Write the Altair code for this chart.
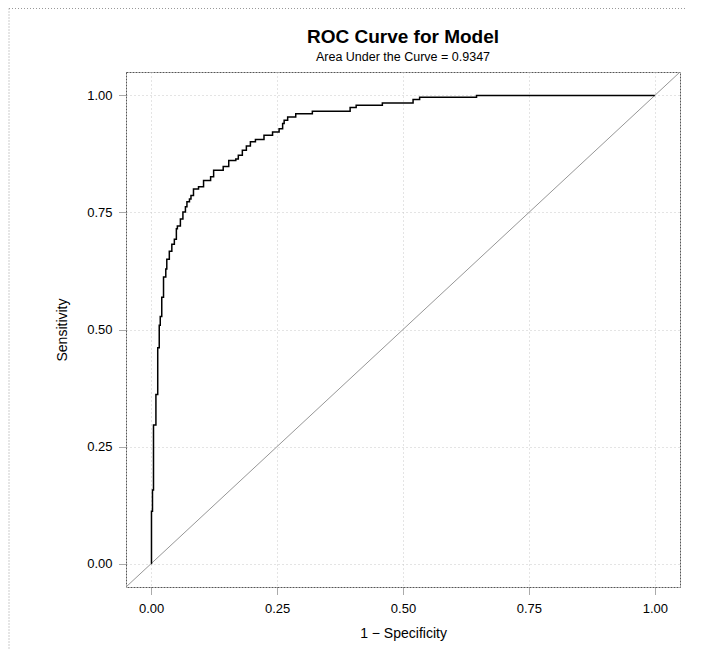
import altair as alt
import pandas as pd

# ROC curve corner points (1 - specificity, sensitivity)
fpr = [0.0, 0.0006, 0.0026, 0.0046, 0.0094, 0.013, 0.016, 0.018, 0.021, 0.0245,
       0.029, 0.031, 0.036, 0.041, 0.046, 0.050, 0.052, 0.058, 0.063, 0.068,
       0.071, 0.076, 0.079, 0.084, 0.094, 0.104, 0.118, 0.124, 0.143, 0.154,
       0.168, 0.173, 0.181, 0.189, 0.197, 0.207, 0.224, 0.241, 0.254, 0.261,
       0.264, 0.271, 0.287, 0.320, 0.395, 0.407, 0.459, 0.520, 0.533, 0.646, 1.0]
tpr = [0.0, 0.112, 0.157, 0.296, 0.361, 0.461, 0.509, 0.528, 0.569, 0.612,
       0.629, 0.650, 0.667, 0.682, 0.693, 0.715, 0.721, 0.736, 0.751, 0.762,
       0.773, 0.779, 0.786, 0.800, 0.805, 0.818, 0.826, 0.840, 0.848, 0.861,
       0.864, 0.872, 0.883, 0.892, 0.901, 0.906, 0.915, 0.922, 0.929, 0.940,
       0.947, 0.954, 0.961, 0.966, 0.974, 0.979, 0.984, 0.991, 0.996, 1.000, 1.0]

diag = [-0.05, 1.05]
ticks = [0.0, 0.25, 0.5, 0.75, 1.0]
domain = [-0.05, 1.05]

title = "ROC Curve for Model"
subtitle = "Area Under the Curve = 0.9347"
x_title = "1 − Specificity"
y_title = "Sensitivity"

FONT = "Liberation Sans"
W, H = 554, 515

roc_df = pd.DataFrame({"x": fpr, "y": tpr})
diag_df = pd.DataFrame({"x": diag, "y": diag})
frame_df = pd.DataFrame({"k": [0]})

xscale = alt.Scale(domain=domain, nice=False, zero=False)
yscale = alt.Scale(domain=domain, nice=False, zero=False)

x_axis = alt.Axis(values=ticks, format=".2f", title=x_title,
                  titleX=W / 2, titleY=46, titleBaseline="middle", titleAlign="center")
y_axis = alt.Axis(values=ticks, format=".2f", title=y_title,
                  titleX=-64, titleY=H / 2, titleAngle=-90,
                  titleBaseline="middle", titleAlign="center")

enc_x = alt.X("x:Q", scale=xscale, axis=x_axis)
enc_y = alt.Y("y:Q", scale=yscale, axis=y_axis)

diag_layer = alt.Chart(diag_df).mark_line(color="#8a8a8a", strokeWidth=0.9, clip=True).encode(
    x=enc_x, y=enc_y
)

roc_layer = alt.Chart(roc_df).mark_line(
    color="black", strokeWidth=1.5, interpolate="step-after"
).encode(x=enc_x, y=enc_y)

left_frame = alt.Chart(frame_df).mark_rule(
    color="#999999", strokeDash=[1, 2], strokeWidth=1
).encode(x=alt.value(-117), y=alt.value(-63.5), y2=alt.value(580))

top_frame = alt.Chart(frame_df).mark_rule(
    color="#999999", strokeDash=[1, 2], strokeWidth=1
).encode(y=alt.value(-63.5), x=alt.value(-117), x2=alt.value(570))

chart = alt.layer(left_frame, top_frame, diag_layer, roc_layer).properties(
    width=W,
    height=H,
    title=alt.TitleParams(
        text=title,
        subtitle=subtitle,
        fontSize=19,
        fontWeight="bold",
        font=FONT,
        subtitleFont=FONT,
        subtitleFontSize=12.5,
        subtitleColor="black",
        color="black",
        anchor="middle",
        offset=-55,
        subtitlePadding=4,
    ),
    autosize=alt.AutoSizeParams(type="none"),
    padding={"left": 118, "top": 64, "right": 5, "bottom": 62},
).configure_view(
    stroke="#555555", strokeDash=[2, 1], strokeWidth=1
).configure_axis(
    domain=False,
    grid=True,
    gridColor="#c8c8c8",
    gridDash=[1, 3],
    gridWidth=1,
    tickColor="#555555",
    tickDash=[1, 1],
    tickSize=7,
    labelFont=FONT,
    labelFontSize=13,
    labelColor="black",
    titleFont=FONT,
    titleFontSize=14,
    titleFontWeight="normal",
    titleColor="black",
).configure_axisX(labelPadding=8).configure_axisY(labelPadding=7)

chart.save("out.html", embed_options={"renderer": "svg", "actions": False})
